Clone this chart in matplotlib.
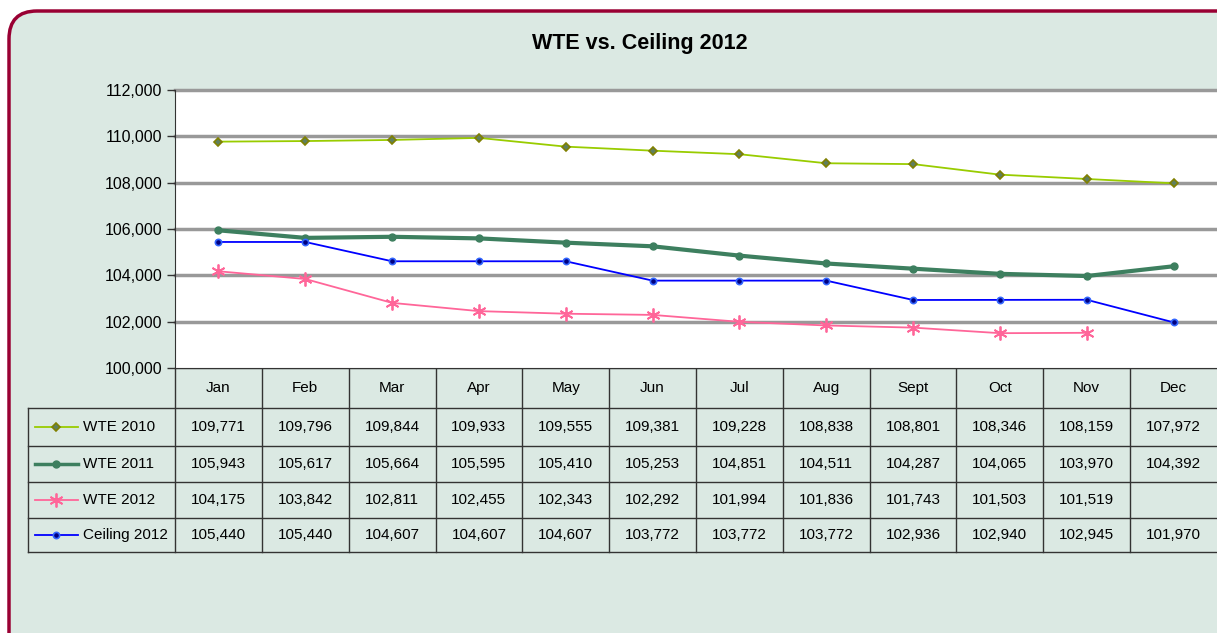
import matplotlib
matplotlib.use("Agg")
import matplotlib.pyplot as plt
import matplotlib.transforms as mtrans
from matplotlib.patches import FancyBboxPatch
import numpy as np

months = ["Jan", "Feb", "Mar", "Apr", "May", "Jun", "Jul", "Aug", "Sept", "Oct", "Nov", "Dec"]
wte_2010 = [109771, 109796, 109844, 109933, 109555, 109381, 109228, 108838, 108801, 108346, 108159, 107972]
wte_2011 = [105943, 105617, 105664, 105595, 105410, 105253, 104851, 104511, 104287, 104065, 103970, 104392]
wte_2012 = [104175, 103842, 102811, 102455, 102343, 102292, 101994, 101836, 101743, 101503, 101519, None]
ceiling_2012 = [105440, 105440, 104607, 104607, 104607, 103772, 103772, 103772, 102936, 102940, 102945, 101970]
series_names = ["WTE 2010", "WTE 2011", "WTE 2012", "Ceiling 2012"]
title = "WTE vs. Ceiling 2012"
y_ticks = [100000, 102000, 104000, 106000, 108000, 110000, 112000]

plt.rcParams['font.family'] = ['Liberation Sans', 'DejaVu Sans']

W, H = 1217, 633
BG = '#dbe9e3'
fig = plt.figure(figsize=(W / 100, H / 100), dpi=100)
fig.patch.set_facecolor('white')

bg = fig.add_axes([0, 0, 1, 1])
bg.set_xlim(0, W)
bg.set_ylim(H, 0)
bg.axis('off')
border = FancyBboxPatch((9, 11), W + 40, H + 40, boxstyle="round,pad=0,rounding_size=28",
                        facecolor=BG, edgecolor='#990033', linewidth=2.5)
bg.add_patch(border)
bg.text(640, 43, title, ha='center', va='center', fontsize=15.5, fontweight='bold')

# main axes in pixel geometry
L, R, T, B = 175, 1217, 90, 368
ax = fig.add_axes([L / W, 1 - B / H, (R - L) / W, (B - T) / H])
ax.set_facecolor('white')
x = np.arange(len(months))
ax.set_xlim(-0.5, len(months) - 0.5)
ax.set_ylim(100000, 112000)
ax.set_yticks(y_ticks)
ax.set_yticklabels([f"{v:,}" for v in y_ticks], fontsize=11.5)
ax.tick_params(axis='y', length=6, width=1, color='#333333', pad=3)
ax.set_xticks([])
for s in ['top', 'right']:
    ax.spines[s].set_visible(False)
ax.spines['left'].set_color('#333333')
ax.spines['bottom'].set_color('#333333')
for v in y_ticks[1:]:
    ax.axhline(v, color='#999999', lw=2.5, zorder=1, clip_on=False)

styles = [
    dict(color='#99cc00', lw=1.3, marker='D', ms=4.5, mfc='#5f7f5f', mec='#808000', mew=1.2),
    dict(color='#3d7f5f', lw=3, marker='o', ms=5, mfc='#3d7f5f', mec='#3d7f5f'),
    dict(color='#ff6699', lw=1.3, marker=(6, 2, 0), ms=10, mfc='#ff6699', mec='#ff6699', mew=1.3),
    dict(color='#0000ff', lw=1.3, marker='o', ms=4.5, mfc='#000080', mec='#3366ff', mew=1.2),
]
data = [wte_2010, wte_2011, wte_2012, ceiling_2012]
for vals, st in zip(data, styles):
    yv = np.array([np.nan if v is None else v for v in vals], dtype=float)
    ax.plot(x, yv, zorder=3, clip_on=False, **st)

# table
tr = mtrans.blended_transform_factory(ax.transData, bg.transData)
rows_y = [368, 408, 446, 482, 518, 552]
leg_left = 28
lc = '#333333'
bg.plot([L, R], [rows_y[0], rows_y[0]], color=lc, lw=1)
for yy in rows_y[1:]:
    bg.plot([leg_left, R], [yy, yy], color=lc, lw=1)
bg.plot([leg_left, leg_left], [rows_y[1], rows_y[-1]], color=lc, lw=1)
bg.plot([L, L], [rows_y[0], rows_y[-1]], color=lc, lw=1)
for i in range(1, len(months)):
    bg.plot([i - 0.5, i - 0.5], [rows_y[0], rows_y[-1]], color=lc, lw=1, transform=tr)

hy = (rows_y[0] + rows_y[1]) / 2
for i, m in enumerate(months):
    bg.text(i, hy, m, ha='center', va='center', fontsize=11, transform=tr)
for r, (name, vals, st) in enumerate(zip(series_names, data, styles)):
    cy = (rows_y[r + 1] + rows_y[r + 2]) / 2
    for i, v in enumerate(vals):
        if v is not None:
            bg.text(i, cy, f"{v:,}", ha='center', va='center', fontsize=11, transform=tr)
    bg.plot([35, 78], [cy, cy], color=st['color'], lw=min(st['lw'], 2.5))
    bg.plot([56], [cy], linestyle='none', marker=st['marker'], ms=st['ms'], mfc=st['mfc'],
            mec=st['mec'], mew=st.get('mew', 1))
    bg.text(83, cy, name, ha='left', va='center', fontsize=11)

fig.savefig('out.png', dpi=100, facecolor='white')
